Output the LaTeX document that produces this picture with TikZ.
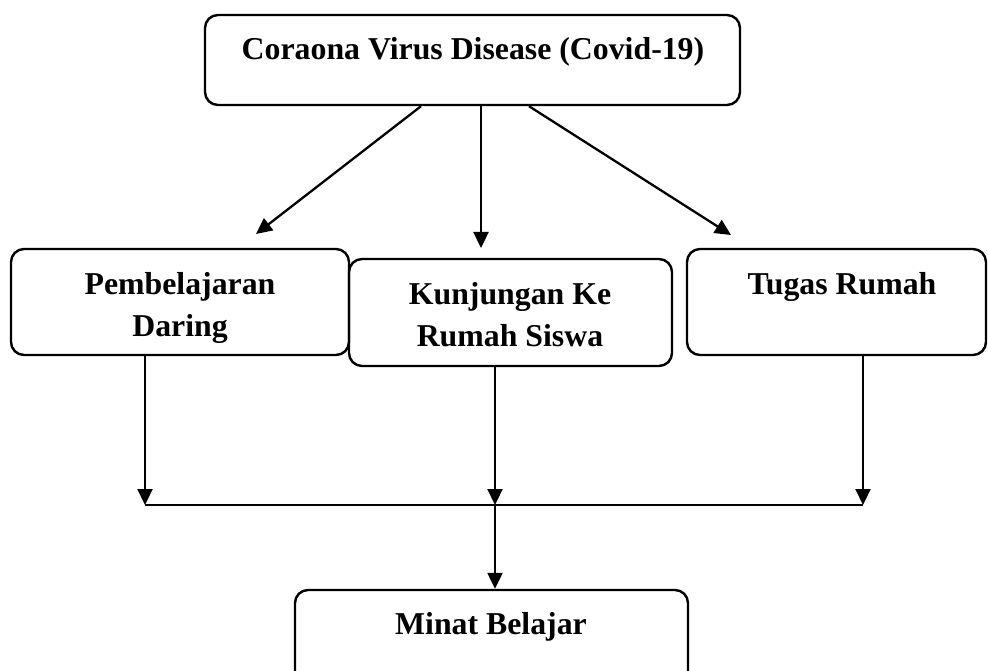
\documentclass[tikz,border=0pt]{standalone}
\usepackage{fontspec}
\setmainfont{Liberation Serif}
\usetikzlibrary{arrows.meta}
\begin{document}
\begin{tikzpicture}[x=1pt,y=-1pt,
  box/.style={draw, line width=2.4pt, rounded corners=13pt, inner sep=0pt},
  lbl/.style={font=\fontsize{31.8}{42}\selectfont\bfseries, anchor=base, inner sep=0pt},
  link/.style={line width=2.3pt},
  arr/.style={link, -{Triangle[length=16pt,width=15pt]}}]
\useasboundingbox (0,0) rectangle (988,671);
% boxes
\node[box, minimum width=535pt, minimum height=90pt] (A) at (472.5,60) {};
\node[box, minimum width=338pt, minimum height=106pt] (B) at (180,302) {};
\node[box, minimum width=323pt, minimum height=107pt] (C) at (510.5,312.5) {};
\node[box, minimum width=299pt, minimum height=106pt] (D) at (836.5,302) {};
\node[box, minimum width=393pt, minimum height=100pt] (E) at (491.5,640) {};
% texts
\node[lbl] (tA) at (473,60) {Coraona Virus Disease (Covid-19)};
\node[lbl] (tB1) at (180,294) {Pembelajaran};
\node[lbl] (tB2) at (180,336) {Daring};
\node[lbl] (tC1) at (510,304) {Kunjungan Ke};
\node[lbl] (tC2) at (510,346) {Rumah Siswa};
\node[lbl] (tD) at (842,294) {Tugas Rumah};
\node[lbl] (tE) at (491,634) {Minat Belajar};
% arrow tips and junctions
\coordinate (pB) at (256,234);
\coordinate (pC) at (481,248);
\coordinate (pD) at (731,235);
\coordinate (jL) at (145,505);
\coordinate (jM) at (495,505);
\coordinate (jR) at (863,505);
% connectors from the top box
\draw[arr] (A.south -| 421,0) -- (pB);
\draw[arr] (A.south -| 481,0) -- (pC);
\draw[arr] (A.south -| 529,0) -- (pD);
% connectors to the bottom box
\draw[arr] (B.south -| jL) -- (jL);
\draw[arr] (C.south -| jM) -- (jM);
\draw[arr] (D.south -| jR) -- (jR);
\draw[link] (jL) -- (jR);
\draw[arr] (jM) -- (E.north -| jM);
\end{tikzpicture}
\end{document}
